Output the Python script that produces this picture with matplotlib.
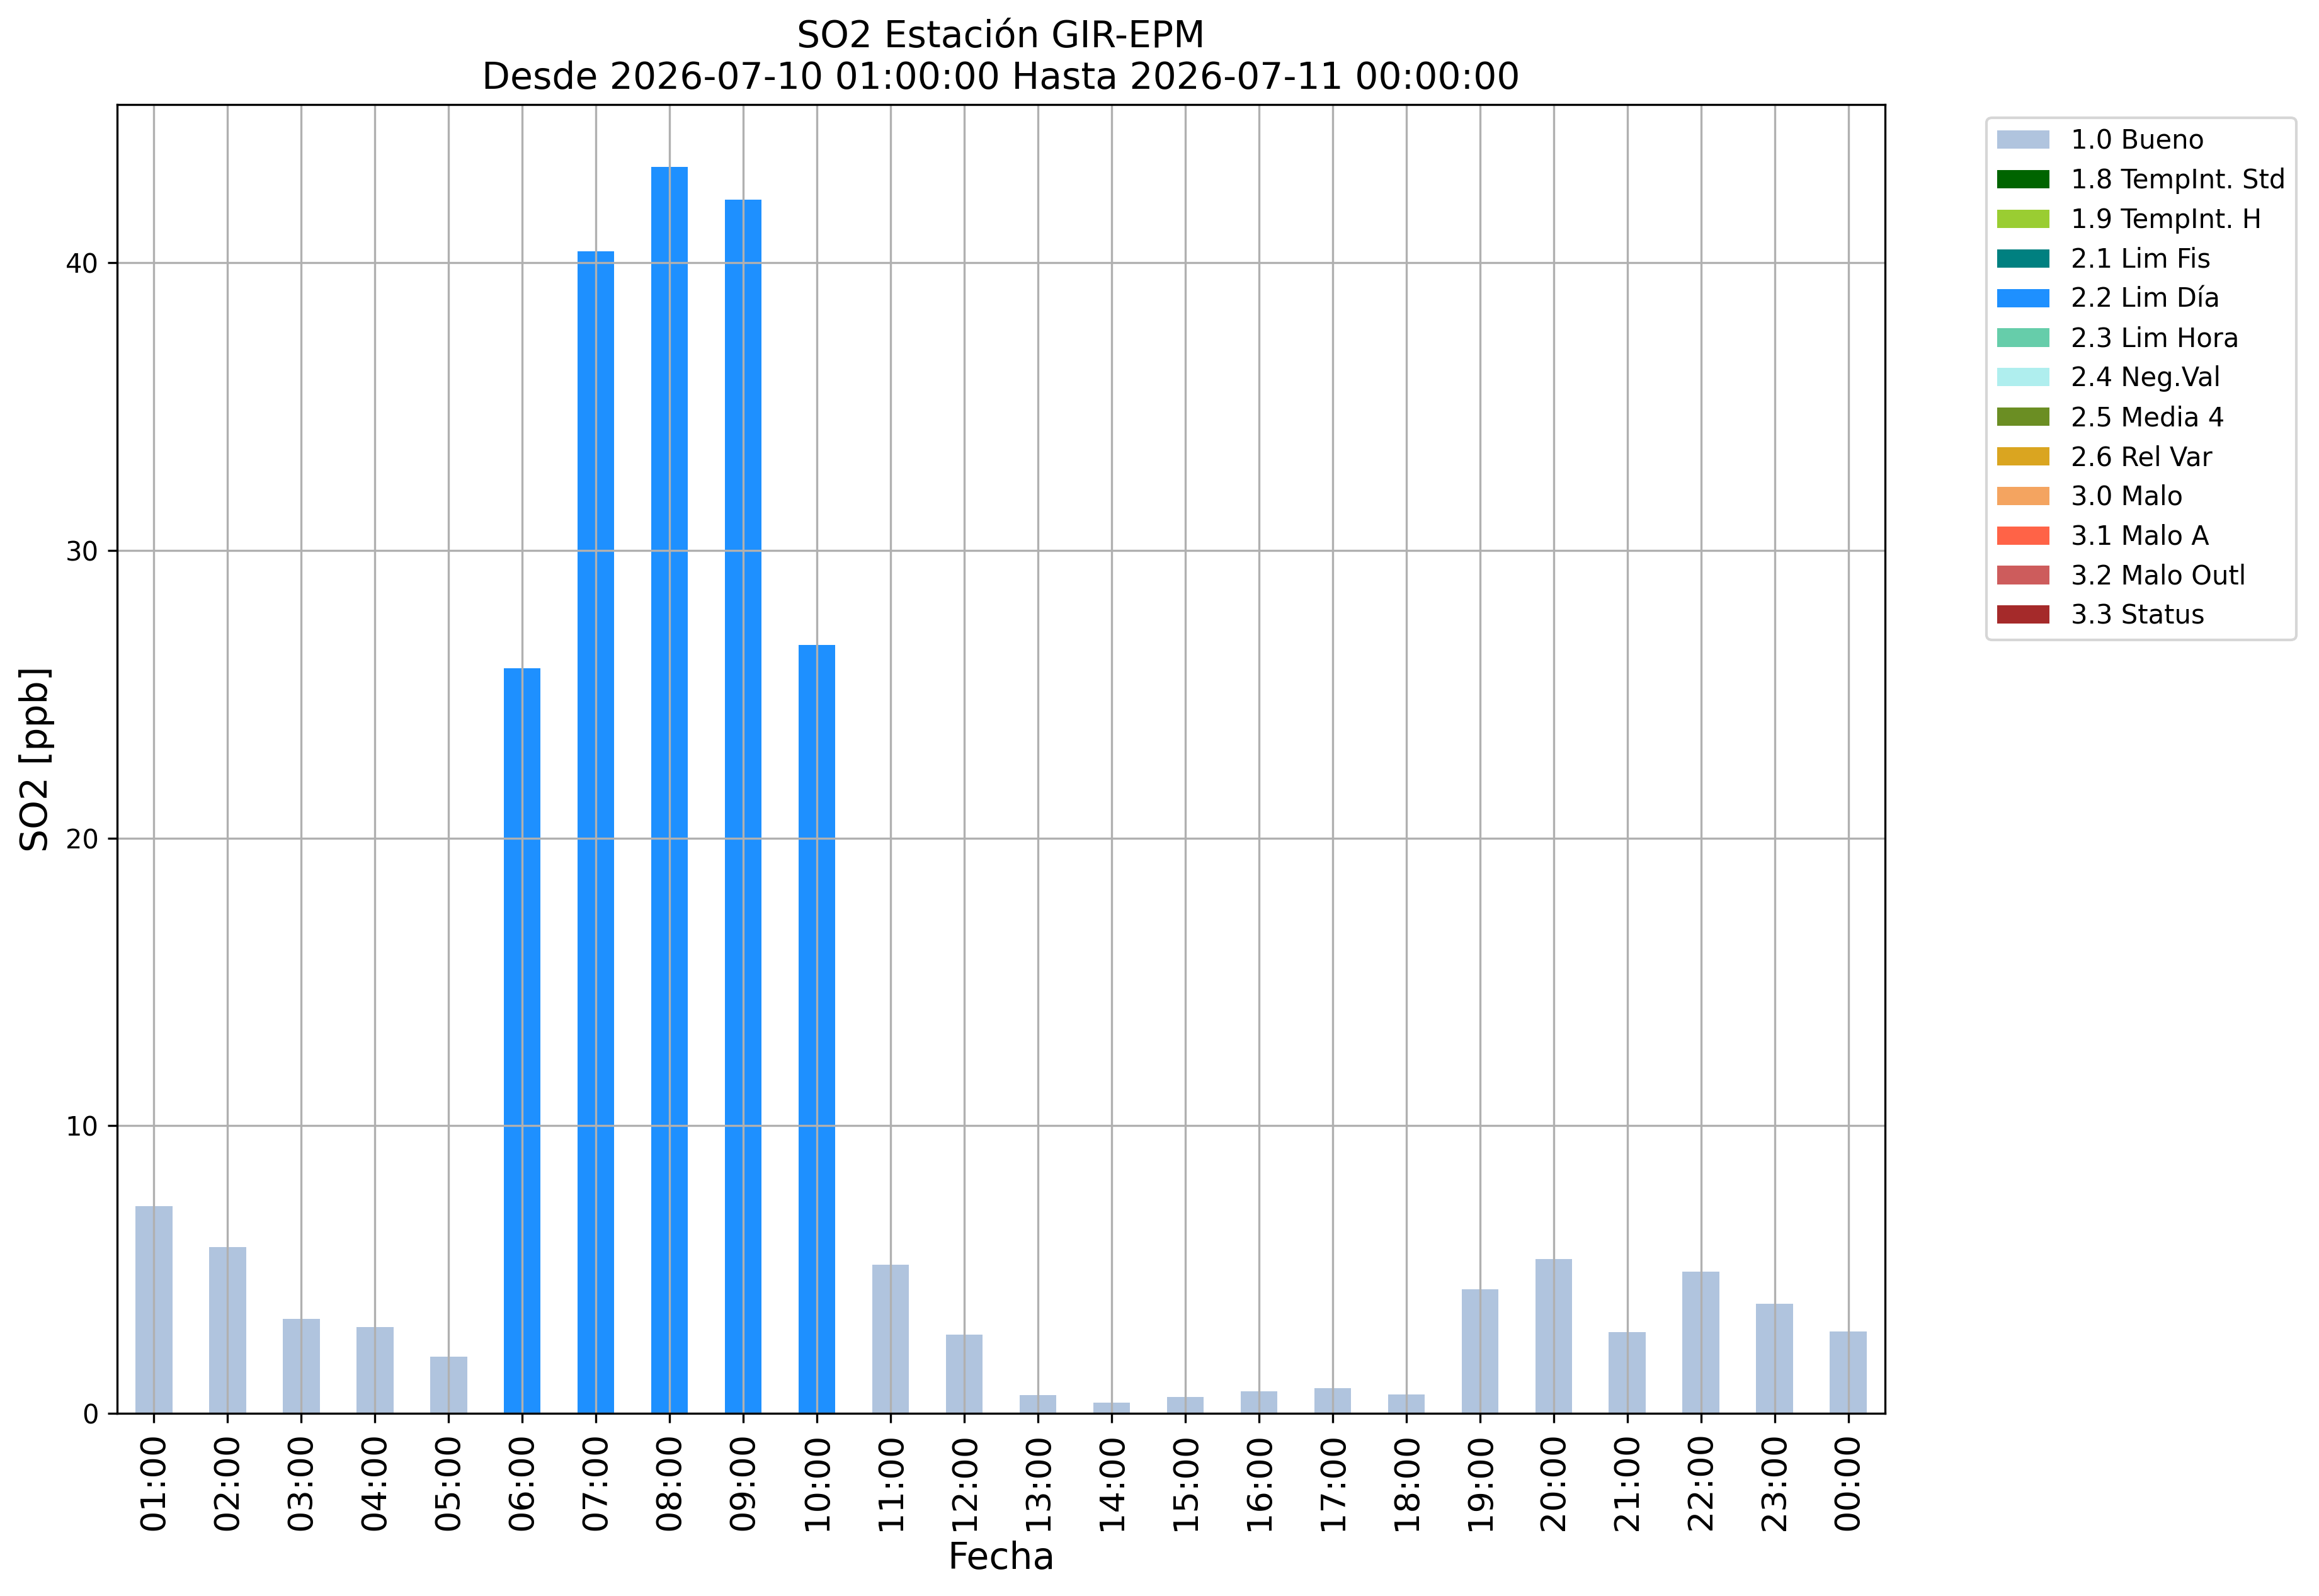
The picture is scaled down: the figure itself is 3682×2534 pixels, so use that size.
import matplotlib
matplotlib.use('Agg')
import matplotlib.pyplot as plt
import numpy as np

# horas del dia y concentracion de SO2
horas = ['01:00', '02:00', '03:00', '04:00', '05:00', '06:00', '07:00', '08:00',
         '09:00', '10:00', '11:00', '12:00', '13:00', '14:00', '15:00', '16:00',
         '17:00', '18:00', '19:00', '20:00', '21:00', '22:00', '23:00', '00:00']
so2 = [7.20, 5.79, 3.29, 3.01, 1.98, 25.91, 40.40, 43.34, 42.20, 26.72, 5.16, 2.75,
       0.64, 0.38, 0.57, 0.77, 0.88, 0.66, 4.31, 5.36, 2.83, 4.92, 3.82, 2.85]
# bandera de calidad de cada dato
flags = ['1.0 Bueno'] * 5 + ['2.2 Lim Día'] * 5 + ['1.0 Bueno'] * 14

categorias = ['1.0 Bueno', '1.8 TempInt. Std', '1.9 TempInt. H', '2.1 Lim Fis',
              '2.2 Lim Día', '2.3 Lim Hora', '2.4 Neg.Val', '2.5 Media 4',
              '2.6 Rel Var', '3.0 Malo', '3.1 Malo A', '3.2 Malo Outl', '3.3 Status']
colores = ['lightsteelblue', 'darkgreen', 'yellowgreen', 'teal', 'dodgerblue',
           'mediumaquamarine', 'paleturquoise', 'olivedrab', 'goldenrod',
           'sandybrown', 'tomato', 'indianred', 'brown']

fig = plt.figure(figsize=(3682 / 300, 2534 / 300), dpi=300)
ax = fig.add_axes([0.0505, 0.1144, 0.7624, 0.8201])

x = np.arange(len(horas))
valores = np.array(so2)
base = np.zeros(len(horas))
for cat, col in zip(categorias, colores):
    h = np.where(np.array(flags) == cat, valores, 0.0)
    ax.bar(x, h, width=0.5, bottom=base, color=col, label=cat)
    base = base + h

ax.set_xlim(-0.5, len(horas) - 0.5)
ax.set_ylim(0, valores.max() * 1.05)
ax.set_xticks(x)
ax.set_xticklabels(horas, rotation=90, fontsize=13)
ax.tick_params(axis='y', labelsize=10)
ax.grid(True)

ax.set_title('SO2 Estación GIR-EPM\nDesde 2026-07-10 01:00:00 Hasta 2026-07-11 00:00:00',
             fontsize=14)
ax.set_xlabel('Fecha', fontsize=14)
ax.set_ylabel('SO2 [ppb]', fontsize=14)

ax.legend(bbox_to_anchor=(1.05, 1), loc='upper left', fontsize=10)

fig.savefig('out.png', dpi=300)
